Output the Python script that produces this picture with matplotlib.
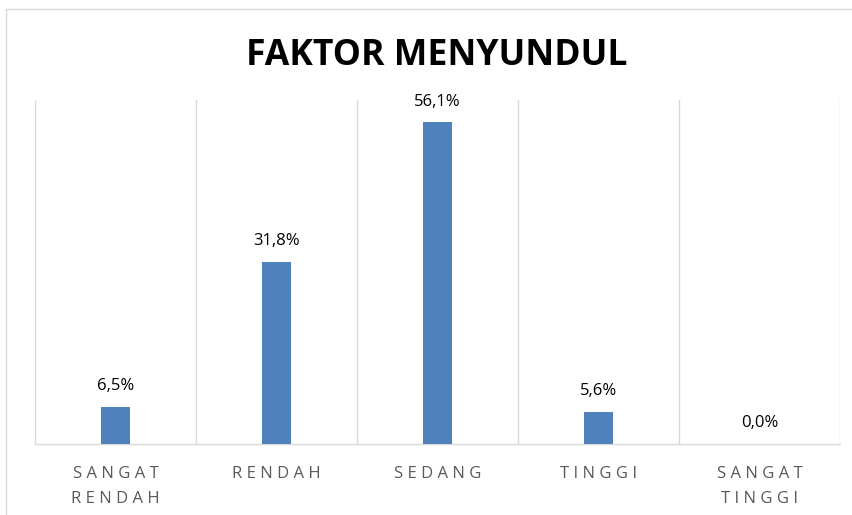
import numpy as np
import matplotlib.pyplot as plt
from matplotlib.lines import Line2D

categories = ["SANGAT\nRENDAH", "RENDAH", "SEDANG", "TINGGI", "SANGAT\nTINGGI"]
values = [6.5, 31.8, 56.1, 5.6, 0.0]
value_labels = ["6,5%", "31,8%", "56,1%", "5,6%", "0,0%"]
title = "FAKTOR MENYUNDUL"

bar_color = "#4F81BD"
grid_color = "#D9D9D9"


def spaced(txt):
    # spread the letters like the office chart does
    return "\n".join(" ".join(list(line)) for line in txt.split("\n"))


plt.rcParams['font.family'] = ['Open Sans', 'DejaVu Sans']

fig = plt.figure(figsize=(8.52, 5.15), dpi=100)
ax = fig.add_axes([35 / 852, 71 / 515, 805 / 852, 344 / 515])

x = np.arange(len(categories))
ax.bar(x, values, width=0.186, color=bar_color, zorder=3)

for xi, v, lab in zip(x, values, value_labels):
    ax.annotate(lab, (xi, v), xytext=(0, 12), textcoords="offset points",
                ha="center", va="baseline", fontsize=12, color="black")

ax.set_xlim(-0.5, len(categories) - 0.5)
ax.set_ylim(0, 60)
ax.set_yticks([])
ax.set_xticks(x)
ax.set_xticklabels([spaced(c) for c in categories], fontsize=12,
                   color="#595959", linespacing=1.75)
ax.tick_params(axis="x", length=0, pad=16)

for b in np.arange(-0.5, len(categories), 1.0):
    ax.axvline(b, color=grid_color, lw=1.0, zorder=1)

for s in ["top", "right", "left"]:
    ax.spines[s].set_visible(False)
ax.spines["bottom"].set_color(grid_color)
ax.spines["bottom"].set_linewidth(1.0)

fig.text(437 / 852, 1 - 56 / 515, title, ha="center", va="center",
         fontsize=25.6, fontweight="bold", color="black")

# outer chart border (only top and left visible in the crop)
fig.add_artist(Line2D([6 / 852, 1.0], [1 - 9 / 515, 1 - 9 / 515],
                      transform=fig.transFigure, color=grid_color, lw=1.0))
fig.add_artist(Line2D([6 / 852, 6 / 852], [0, 1 - 9 / 515],
                      transform=fig.transFigure, color=grid_color, lw=1.0))

fig.savefig("out.png", dpi=100)
